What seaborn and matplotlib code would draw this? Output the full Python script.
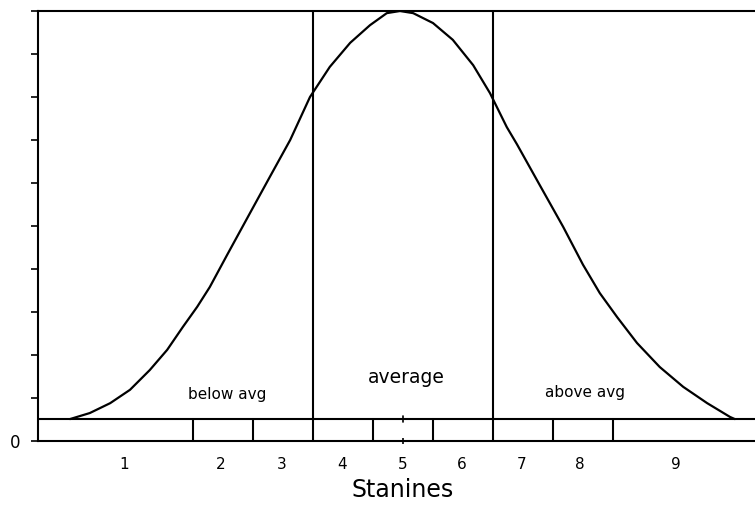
import matplotlib
matplotlib.use("Agg")
import matplotlib.pyplot as plt
import seaborn as sns
import pandas as pd

# curve: x in stanine units, y in axis units (0..10)
curve_x = [-0.55, -0.22, 0.12, 0.45, 0.78, 1.07, 1.33, 1.57, 1.78, 2.07,
           2.45, 2.78, 3.12, 3.45, 3.78, 4.12, 4.45, 4.73, 4.95, 5.17,
           5.50, 5.83, 6.17, 6.45, 6.73, 6.90, 7.28, 7.67, 8.00,
           8.28, 8.57, 8.90, 9.28, 9.67, 10.07, 10.45, 10.53]
curve_y = [0.51, 0.65, 0.88, 1.19, 1.65, 2.12, 2.65, 3.12, 3.58, 4.33,
           5.30, 6.14, 7.00, 8.00, 8.70, 9.26, 9.67, 9.95, 10.00, 9.95,
           9.72, 9.33, 8.74, 8.09, 7.30, 6.90, 5.95, 4.98, 4.10,
           3.44, 2.88, 2.28, 1.72, 1.26, 0.88, 0.56, 0.51]

band_top = 0.51
band_edges = [1.5, 2.5, 4.5, 5.5, 7.5, 8.5]
group_edges = [3.5, 6.5]
stanine_labels = ["1", "2", "3", "4", "5", "6", "7", "8", "9"]
stanine_pos = [0.35, 1.97, 2.98, 3.98, 5.0, 5.98, 6.98, 7.95, 9.55]
group_names = ["below avg", "average", "above avg"]
group_pos = [(2.07, 1.07), (5.05, 1.47), (8.03, 1.12)]

sns.set_style("ticks")
plt.rcParams['font.family'] = ['DejaVu Sans']

fig = plt.figure(figsize=(7.55, 5.05), dpi=100)
ax = fig.add_axes([38 / 755, 64 / 505, 1 - 38 / 755, 430 / 505])

df = pd.DataFrame({"x": curve_x, "y": curve_y})
sns.lineplot(data=df, x="x", y="y", ax=ax, color="black", lw=1.6, sort=False)

lw = 1.5
ax.axhline(band_top, color="black", lw=lw)
for e in group_edges:
    ax.axvline(e, color="black", lw=lw)
for e in band_edges:
    ax.plot([e, e], [0, band_top], color="black", lw=lw)
# small centre tick on the band top
ax.plot([5, 5], [band_top - 0.06, band_top + 0.06], color="black", lw=1.2)

for lab, p in zip(stanine_labels, stanine_pos):
    ax.text(p, -0.55, lab, ha="center", va="center", fontsize=11, color="black")
ax.text(5.0, -1.15, "Stanines", ha="center", va="center", fontsize=17, color="black")

for i, (name, (gx, gy)) in enumerate(zip(group_names, group_pos)):
    fs = 13.5 if i == 1 else 11
    ax.text(gx, gy, name, ha="center", va="center", fontsize=fs, color="black")

ax.set_xlim(-1.083, 10.867)
ax.set_ylim(0, 10)
ax.set_xticks([5])
ax.set_xticklabels([])
ax.set_yticks(range(11))
ax.set_yticklabels(["0"] + [""] * 10)
ax.tick_params(axis="y", direction="out", length=5, width=1.2, labelsize=12,
               pad=8, colors="black")
ax.tick_params(axis="x", direction="inout", length=5, width=1.2, colors="black")
ax.set_xlabel("")
ax.set_ylabel("")

for s in ["left", "bottom", "top"]:
    ax.spines[s].set_visible(True)
    ax.spines[s].set_color("black")
    ax.spines[s].set_linewidth(lw)
ax.spines["right"].set_visible(False)

fig.savefig("out.png", dpi=100)
